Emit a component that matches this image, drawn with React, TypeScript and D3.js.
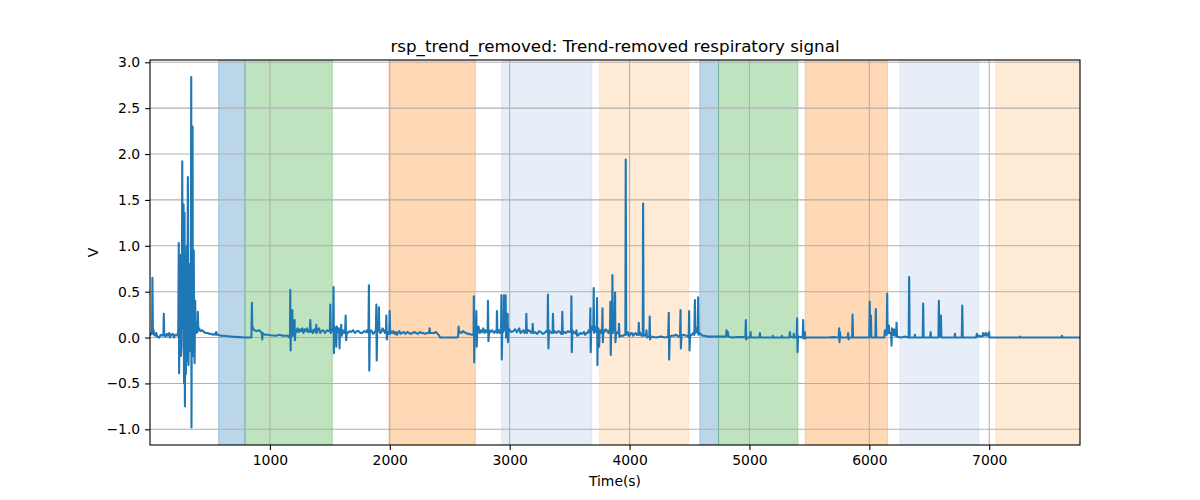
import React, { useRef, useEffect } from 'react';
import * as d3 from 'd3';

type Pt = [number, number];

// signal pieces, time (s) and volts
const onsetBurst: Pt[] = [
  [0, 0.02], [8, 0.05], [17, 0.04], [20, 0.65], [24, 0.1], [30, 0.08], [35, 0.03], [45, 0.02],
  [52, 0.05], [60, 0.01], [75, 0.0], [90, 0.03], [105, 0.02], [112, 0.03], [115, 0.26],
  [119, 0.03], [130, 0.01], [140, 0.04], [150, 0.02], [160, 0.05], [168, 0.0], [175, 0.03],
  [190, 0.04], [200, 0.0], [210, 0.03], [225, 0.03], [232, 0.02], [236, 0.1],
  [240, 1.03], [243, -0.39], [246, 0.7], [250, 0.3], [254, 0.9], [258, -0.2], [263, -0.1],
  [266, 0.6], [269, 1.92], [272, 0.1], [276, 0.9], [280, 1.45], [282, 0.2], [284, -0.5],
  [286, 0.4], [288, 1.36], [291, -0.75], [294, 0.3], [296, 0.9], [299, -0.4], [302, -0.19],
  [305, 0.5], [307, 1.0], [310, -0.25], [313, 0.6], [316, 1.75], [319, 0.2], [321, -0.3],
  [324, 0.4], [326, 0.8], [329, -0.15], [332, -0.1], [336, 0.7], [340, 0.3], [344, 2.84],
  [346, -0.98], [349, 0.6], [351, 0.5], [355, 2.3], [357, 0.3], [359, -0.2], [362, 0.5],
  [365, 0.95], [368, 0.1], [372, -0.28], [375, 0.2], [377, 0.4], [380, 0.08], [384, 0.05],
  [396, 0.06], [399, 0.28], [403, 0.08], [410, 0.1], [420, 0.07], [435, 0.08], [450, 0.06],
  [465, 0.05], [480, 0.05], [495, 0.04], [510, 0.04], [525, 0.03], [540, 0.04], [548, 0.03],
  [552, 0.06], [558, 0.03], [570, 0.03], [590, 0.02], [620, 0.02], [650, 0.015], [680, 0.01],
  [740, 0.005], [790, 0.0], [846, 0.0],
];

const firstRest: Pt[] = [
  [850, 0.38], [853, 0.12], [860, 0.1], [870, 0.08], [890, 0.07], [910, 0.08], [925, 0.06],
  [933, 0.05], [936, -0.02], [940, 0.05], [945, 0.04], [960, 0.03], [980, 0.03], [1010, 0.025],
  [1050, 0.02], [1080, 0.03], [1110, 0.02], [1150, 0.02], [1165, 0.0], [1168, 0.05],
  [1170, 0.52], [1173, -0.14], [1176, 0.1], [1180, 0.05], [1184, 0.08], [1187, 0.3],
  [1190, 0.02], [1203, 0.04], [1206, 0.19], [1209, -0.03], [1214, 0.08], [1220, 0.06],
  [1230, 0.1], [1240, 0.06], [1250, 0.09], [1260, 0.07], [1270, 0.1], [1280, 0.05],
  [1290, 0.09], [1300, 0.07], [1310, 0.1], [1320, 0.06], [1333, 0.07], [1337, 0.19],
  [1341, 0.06], [1350, 0.08], [1360, 0.05], [1370, 0.09], [1383, 0.06], [1387, 0.14],
  [1391, 0.05], [1400, 0.09], [1410, 0.1], [1420, 0.05], [1430, 0.07], [1445, 0.08],
  [1460, 0.05], [1475, 0.08], [1490, 0.07], [1500, 0.08], [1504, 0.36], [1508, 0.05],
  [1527, 0.1], [1531, 0.55], [1534, -0.17], [1538, 0.12], [1545, 0.08], [1551, 0.1],
  [1554, -0.1], [1558, 0.12], [1565, 0.06], [1572, 0.1], [1578, 0.05], [1581, -0.12],
  [1585, 0.08], [1592, 0.1], [1595, 0.14], [1599, 0.02], [1610, 0.08], [1620, 0.05],
  [1628, 0.08], [1632, 0.24], [1636, -0.03], [1642, 0.06], [1650, 0.05], [1665, 0.07],
  [1680, 0.06], [1695, 0.08], [1710, 0.05], [1725, 0.07], [1740, 0.07], [1755, 0.05],
  [1770, 0.05], [1785, 0.07], [1800, 0.06], [1810, 0.08], [1822, 0.05], [1826, 0.57],
  [1829, -0.36], [1833, 0.05], [1840, 0.08], [1850, 0.07], [1860, 0.04], [1870, 0.05],
  [1884, 0.08], [1888, 0.36], [1891, -0.25], [1895, 0.06], [1905, 0.08], [1909, 0.33],
  [1913, 0.1], [1920, 0.05], [1930, 0.06], [1940, 0.1], [1950, 0.08], [1960, 0.05],
  [1968, 0.06], [1971, 0.24], [1975, -0.02], [1982, 0.06], [1990, 0.05],
];

const middleStretch: Pt[] = [
  [1996, 0.04], [1999, 0.29], [2003, 0.04], [2010, 0.07], [2020, 0.05], [2030, 0.07],
  [2040, 0.04], [2050, 0.06], [2060, 0.03], [2070, 0.06], [2080, 0.07], [2090, 0.04],
  [2100, 0.05], [2115, 0.06], [2130, 0.04], [2145, 0.06], [2160, 0.05], [2175, 0.04],
  [2190, 0.05], [2205, 0.06], [2220, 0.05], [2235, 0.04], [2250, 0.06], [2265, 0.05],
  [2280, 0.05], [2295, 0.04], [2310, 0.05], [2328, 0.05], [2332, 0.1], [2336, 0.05],
  [2355, 0.05], [2370, 0.05], [2385, 0.06], [2400, 0.04], [2412, 0.02], [2420, 0.0],
  [2480, 0.0], [2560, 0.0], [2570, 0.01], [2574, 0.12], [2579, 0.05], [2590, 0.06],
  [2600, 0.05], [2610, 0.07], [2620, 0.06], [2635, 0.05], [2650, 0.04], [2665, 0.04],
  [2680, 0.03], [2695, 0.03], [2699, 0.06], [2701, 0.45], [2704, -0.27], [2708, 0.2],
  [2714, 0.05], [2719, 0.1], [2722, 0.29], [2725, -0.1], [2730, 0.08], [2740, 0.12],
  [2750, 0.05], [2760, 0.08], [2770, 0.06], [2780, 0.1], [2790, 0.05], [2800, 0.08],
  [2810, 0.06], [2816, 0.08], [2819, 0.4], [2823, -0.04], [2830, 0.08], [2840, 0.06],
  [2855, 0.08], [2870, 0.05], [2880, 0.07], [2891, 0.06], [2894, 0.29], [2898, 0.05],
  [2910, 0.08], [2920, 0.05], [2928, 0.1], [2931, 0.46], [2934, -0.24], [2938, 0.1],
  [2946, 0.06], [2949, 0.1], [2952, 0.46], [2956, 0.08], [2963, 0.1], [2966, 0.46],
  [2970, 0.0], [2976, 0.08], [2980, 0.1], [2983, 0.26], [2986, -0.05], [2992, 0.1],
  [3000, 0.08], [3015, 0.06], [3030, 0.07], [3045, 0.09], [3060, 0.06], [3070, 0.08],
  [3080, 0.1], [3090, 0.05], [3100, 0.06], [3115, 0.08], [3125, 0.05], [3136, 0.07],
  [3139, 0.26], [3143, 0.05], [3155, 0.08], [3170, 0.07], [3180, 0.05], [3189, 0.06],
  [3192, 0.15], [3196, 0.05], [3210, 0.06], [3230, 0.04], [3245, 0.07], [3260, 0.06],
  [3275, 0.04], [3290, 0.05], [3305, 0.07], [3316, 0.06], [3319, 0.47], [3323, -0.12],
  [3328, 0.08], [3340, 0.06], [3350, 0.05], [3358, 0.06], [3361, 0.26], [3365, 0.05],
  [3375, 0.07], [3390, 0.05], [3405, 0.07], [3420, 0.06], [3430, 0.04], [3436, 0.06],
  [3439, 0.28], [3443, 0.04], [3455, 0.06], [3470, 0.05], [3485, 0.07], [3500, 0.06],
  [3512, 0.07], [3515, 0.45], [3518, -0.16], [3523, 0.08], [3535, 0.05], [3545, 0.06],
  [3554, 0.04], [3557, 0.08], [3562, 0.02], [3575, 0.03], [3590, 0.05], [3605, 0.04],
  [3620, 0.06], [3630, 0.03], [3642, 0.05], [3650, 0.05], [3660, 0.08], [3667, 0.06],
];

const peakStretch: Pt[] = [
  [3670, 0.1], [3673, 0.32], [3676, -0.16], [3680, 0.12], [3690, 0.08], [3697, 0.1],
  [3701, 0.54], [3704, 0.05], [3710, 0.12], [3715, 0.1], [3722, 0.06], [3726, 0.1],
  [3729, 0.43], [3732, -0.3], [3736, 0.1], [3740, 0.1], [3743, 0.05], [3746, -0.1],
  [3750, 0.06], [3758, 0.08], [3765, 0.05], [3771, 0.08], [3774, 0.32], [3777, -0.05],
  [3782, 0.08], [3790, 0.06], [3800, 0.09], [3810, 0.08], [3818, 0.06], [3825, 0.05],
  [3832, 0.08], [3837, 0.1], [3840, 0.39], [3843, -0.19], [3847, 0.1], [3854, 0.1],
  [3857, 0.68], [3860, 0.05], [3868, 0.1], [3874, 0.08], [3879, 0.49], [3882, -0.05],
  [3888, 0.06], [3895, 0.05], [3903, 0.06], [3909, 0.04], [3912, 0.15], [3916, 0.01],
  [3930, 0.02], [3945, 0.02], [3958, 0.03], [3965, 0.03], [3968, 1.94], [3972, 0.03],
  [3978, 0.06], [3985, 0.06], [3992, 0.02], [4000, 0.02], [4010, 0.05], [4020, 0.05],
  [4030, 0.02], [4040, 0.04], [4050, 0.05], [4060, 0.03], [4068, 0.04], [4074, 0.03],
  [4077, 0.16], [4081, 0.03], [4090, 0.05], [4100, 0.02], [4110, 0.02], [4113, 1.46],
  [4117, 0.02], [4130, 0.03], [4138, 0.02], [4141, 0.08], [4145, 0.0], [4160, 0.01],
  [4165, 0.02], [4168, 0.23], [4171, -0.02], [4180, 0.01], [4220, 0.0], [4260, 0.01],
  [4300, 0.0], [4322, 0.01], [4327, 0.27], [4330, -0.24], [4335, 0.01], [4350, 0.02],
  [4370, 0.02], [4385, 0.03], [4400, 0.02], [4410, 0.01], [4421, 0.02], [4425, 0.3],
  [4428, -0.12], [4433, 0.02], [4450, 0.03], [4470, 0.02], [4485, 0.02], [4493, 0.0],
  [4497, 0.29], [4500, -0.14], [4505, 0.02], [4520, 0.03], [4530, 0.05], [4540, 0.03],
  [4545, 0.41], [4548, 0.05], [4556, 0.08], [4560, 0.1], [4568, 0.05], [4572, 0.44],
  [4576, 0.03], [4584, 0.05], [4590, 0.04], [4600, 0.03], [4610, 0.02], [4630, 0.02],
  [4650, 0.01], [4700, 0.01], [4750, 0.01], [4790, 0.01], [4805, 0.01], [4809, 0.08],
  [4813, 0.02], [4817, 0.02], [4820, 0.06], [4824, 0.01], [4830, 0.01],
];

const lateStretch: Pt[] = [
  [4850, 0.0], [4900, 0.005], [4950, 0.005], [4966, 0.0], [4970, 0.19], [4973, -0.02],
  [4980, 0.0], [5005, 0.0], [5009, 0.06], [5013, 0.0], [5060, 0.0], [5084, 0.0],
  [5087, 0.05], [5091, 0.0], [5150, 0.0], [5192, 0.0], [5195, 0.02], [5199, 0.0],
  [5266, 0.0], [5270, 0.02], [5274, 0.0], [5334, 0.0], [5337, 0.06], [5341, 0.01],
  [5367, 0.0], [5370, 0.04], [5374, 0.0], [5394, 0.0], [5398, 0.21], [5401, -0.16],
  [5405, 0.01], [5444, 0.0], [5448, 0.19], [5451, -0.01], [5458, 0.0], [5462, 0.06],
  [5466, -0.01], [5475, 0.0], [5550, 0.0], [5650, 0.0], [5700, 0.005], [5744, 0.0],
  [5748, 0.1], [5751, -0.05], [5755, 0.06], [5760, 0.0], [5819, 0.0], [5823, 0.05],
  [5827, -0.02], [5832, 0.0], [5856, 0.0], [5860, 0.25], [5864, 0.0], [5950, 0.0],
  [5999, 0.0], [6003, 0.39], [6006, 0.02], [6010, 0.02], [6013, 0.24], [6017, 0.0],
  [6050, 0.0], [6054, 0.31], [6058, 0.0], [6125, 0.0], [6129, 0.08], [6133, 0.03],
  [6145, 0.03], [6149, 0.48], [6152, 0.05], [6159, 0.05], [6163, 0.13], [6166, 0.05],
  [6175, 0.05], [6182, 0.03], [6185, -0.09], [6188, 0.1], [6193, 0.05], [6203, 0.03],
  [6207, 0.09], [6212, 0.02], [6223, 0.02], [6227, 0.16], [6231, 0.01], [6260, 0.0],
  [6300, 0.01], [6328, 0.0], [6332, 0.66], [6336, 0.0], [6376, 0.0], [6380, 0.03],
  [6384, 0.0], [6445, 0.0], [6449, 0.37], [6453, 0.0], [6507, 0.0], [6511, 0.06],
  [6515, 0.0], [6576, 0.0], [6580, 0.4], [6583, 0.01], [6593, 0.01], [6597, 0.24],
  [6601, 0.0], [6650, 0.0], [6710, 0.0], [6714, 0.04], [6718, 0.0], [6771, 0.0],
  [6775, 0.35], [6779, 0.0], [6890, 0.0], [6897, 0.04], [6905, 0.01], [6914, 0.02],
  [6930, 0.01], [6944, 0.02], [6948, 0.05], [6955, 0.02], [6962, 0.03], [6970, 0.05],
  [6976, 0.02], [6981, 0.04], [6990, 0.02], [6995, 0.03], [6998, 0.06], [7003, 0.0],
  [7200, 0.0], [7252, 0.0], [7256, 0.01], [7260, 0.0], [7600, 0.0], [7606, 0.02],
  [7612, 0.0], [7757, 0.0],
];

// shaded stimulus periods [start, end, kind]
const periods: [number, number, string][] = [
  [572, 792, 'blue'], [792, 1521, 'green'], [1993, 2714, 'orange'],
  [2934, 3685, 'lightblue'], [3751, 4491, 'lightorange'], [4586, 4742, 'blue'],
  [4742, 5404, 'green'], [5465, 6152, 'orange'], [6255, 6914, 'lightblue'],
  [7056, 7757, 'lightorange'],
];

const xTicks = [1000, 2000, 3000, 4000, 5000, 6000, 7000];
const yTicks = [-1.0, -0.5, 0.0, 0.5, 1.0, 1.5, 2.0, 2.5, 3.0];

const periodColor: Record<string, string> = {
  blue: '#1f77b4',
  green: '#2ca02c',
  orange: '#ff7f0e',
  lightblue: '#aec7e8',
  lightorange: '#ffbb78',
};

const App: React.FC = () => {
  const ref = useRef<SVGSVGElement>(null);
  const width = 1200;
  const height = 500;

  useEffect(() => {
    if (!ref.current) return;
    const svg = d3.select(ref.current);
    svg.selectAll('*').remove();

    const margin = { top: 60, right: 120, bottom: 55, left: 150 };
    const w = width - margin.left - margin.right;
    const h = height - margin.top - margin.bottom;
    const font = 'DejaVu Sans, sans-serif';

    const data = [...onsetBurst, ...firstRest, ...middleStretch, ...peakStretch, ...lateStretch];

    const x = d3.scaleLinear().domain([0, 7757]).range([0, w]);
    const y = d3.scaleLinear().domain([-1.171, 3.025]).range([h, 0]);

    svg.append('defs').append('clipPath').attr('id', 'plot-clip')
      .append('rect').attr('width', w).attr('height', h);

    const g = svg.append('g').attr('transform', `translate(${margin.left},${margin.top})`);

    // shaded periods
    g.append('g')
      .attr('clip-path', 'url(#plot-clip)')
      .selectAll('rect')
      .data(periods)
      .join('rect')
      .attr('x', d => x(d[0]))
      .attr('y', 0)
      .attr('width', d => x(d[1]) - x(d[0]))
      .attr('height', h)
      .attr('fill', d => periodColor[d[2]])
      .attr('fill-opacity', 0.3)
      .attr('stroke', d => periodColor[d[2]])
      .attr('stroke-opacity', 0.3)
      .attr('stroke-width', 1);

    // grid
    g.append('g').selectAll('line').data(xTicks).join('line')
      .attr('x1', d => x(d)).attr('x2', d => x(d)).attr('y1', 0).attr('y2', h)
      .attr('stroke', '#b0b0b0').attr('stroke-width', 1.1);
    g.append('g').selectAll('line').data(yTicks).join('line')
      .attr('y1', d => y(d)).attr('y2', d => y(d)).attr('x1', 0).attr('x2', w)
      .attr('stroke', '#b0b0b0').attr('stroke-width', 1.1);

    const line = d3.line<Pt>().x(d => x(d[0])).y(d => y(d[1]));
    g.append('path')
      .datum(data)
      .attr('clip-path', 'url(#plot-clip)')
      .attr('fill', 'none')
      .attr('stroke', '#1f77b4')
      .attr('stroke-width', 2.1)
      .attr('stroke-linejoin', 'round')
      .attr('d', line);

    const minus = (s: string) => s.replace('-', '\u2212');

    const xAxis = d3.axisBottom(x).tickValues(xTicks).tickSize(4.9).tickPadding(4.9)
      .tickFormat(d => String(d));
    const gx = g.append('g').attr('transform', `translate(0,${h})`).call(xAxis);

    const yAxis = d3.axisLeft(y).tickValues(yTicks).tickSize(4.9).tickPadding(4.9)
      .tickFormat(d => minus(d3.format('.1f')(d as number)));
    const gy = g.append('g').call(yAxis);

    [gx, gy].forEach(a => {
      a.select('.domain').remove();
      a.selectAll('.tick line').attr('stroke', '#000').attr('stroke-width', 1.1);
      a.selectAll('.tick text').attr('fill', '#000').style('font-family', font).style('font-size', '13.9px');
    });

    // spines
    g.append('rect').attr('width', w).attr('height', h)
      .attr('fill', 'none').attr('stroke', '#000').attr('stroke-width', 1.1);

    svg.append('text')
      .attr('x', margin.left + w / 2).attr('y', margin.top - 8)
      .attr('text-anchor', 'middle')
      .style('font-family', font).style('font-size', '16.7px')
      .text('rsp_trend_removed: Trend-removed respiratory signal');

    svg.append('text')
      .attr('x', margin.left + w / 2).attr('y', 486)
      .attr('text-anchor', 'middle')
      .style('font-family', font).style('font-size', '13.9px')
      .text('Time(s)');

    svg.append('text')
      .attr('transform', `translate(98,${margin.top + h / 2}) rotate(-90)`)
      .attr('text-anchor', 'middle')
      .style('font-family', font).style('font-size', '13.9px')
      .text('V');
  }, []);

  return (
    <div style={{ position: 'absolute', left: 0, top: 0 }}>
      <svg ref={ref} width={width} height={height} style={{ display: 'block', background: '#fff' }} />
    </div>
  );
};

export default App;
